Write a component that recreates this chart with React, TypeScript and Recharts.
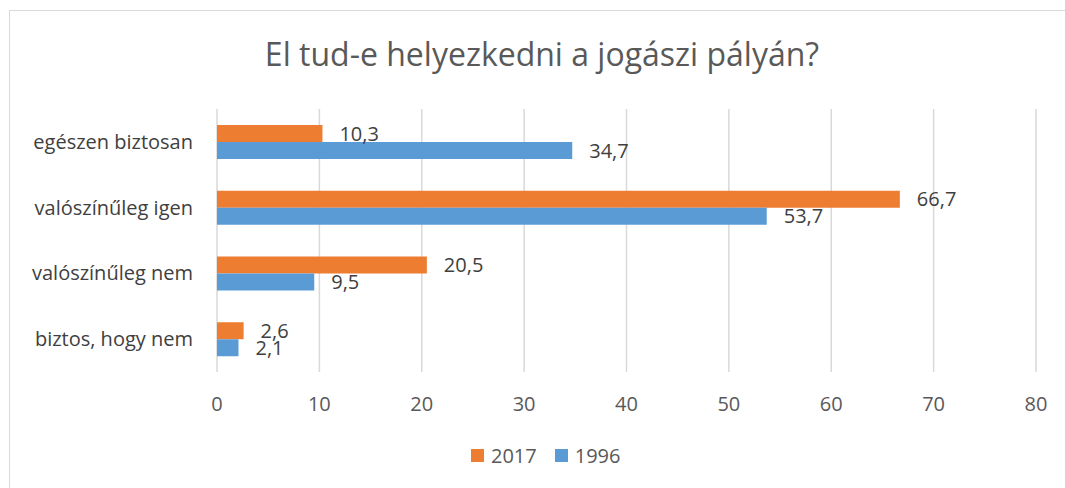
import { BarChart, Bar, XAxis, YAxis, CartesianGrid, LabelList } from 'recharts';

// kategóriák fentről lefelé
const categories = ['egészen biztosan', 'valószínűleg igen', 'valószínűleg nem', 'biztos, hogy nem'];
const values2017 = [10.3, 66.7, 20.5, 2.6];
const values1996 = [34.7, 53.7, 9.5, 2.1];
const xTicks = [0, 10, 20, 30, 40, 50, 60, 70, 80];

const series = [
  { key: 'y2017', name: '2017', color: '#ED7D31' },
  { key: 'y1996', name: '1996', color: '#5B9BD5' },
];

const data = categories.map((c, i) => ({ cat: c, y2017: values2017[i], y1996: values1996[i] }));

const font = '"Open Sans", sans-serif';
const fmt = (v: any) => String(v).replace('.', ',');

export default function App() {
  return (
    <div
      style={{
        position: 'absolute',
        left: 0,
        top: 0,
        width: 1065,
        height: 488,
        overflow: 'hidden',
        background: '#fff',
        fontFamily: font,
      }}
    >
      {/* keret */}
      <div
        style={{
          position: 'absolute',
          left: 9,
          top: 10,
          width: 1200,
          height: 600,
          border: '1px solid #d9d9d9',
        }}
      />
      {/* cím */}
      <div
        style={{
          position: 'absolute',
          left: 0,
          top: 32,
          width: 1084,
          textAlign: 'center',
          fontSize: 32,
          color: '#595959',
          whiteSpace: 'nowrap',
        }}
      >
        El tud-e helyezkedni a jogászi pályán?
      </div>
      <div style={{ position: 'absolute', left: 0, top: 0 }}>
        <BarChart
          width={1065}
          height={488}
          data={data}
          layout="vertical"
          margin={{ top: 109, right: 29, left: 0, bottom: 86 }}
          barSize={17}
          barGap={0}
        >
          <CartesianGrid horizontal={false} stroke="#d9d9d9" strokeWidth={1.5} />
          <XAxis
            type="number"
            domain={[0, 80]}
            ticks={xTicks}
            axisLine={false}
            tickLine={false}
            tickSize={0}
            tickMargin={25}
            height={30}
            tick={{ fill: '#595959', fontSize: 20, fontFamily: font }}
          />
          <YAxis
            type="category"
            dataKey="cat"
            width={217}
            axisLine={false}
            tickLine={false}
            tickSize={0}
            tickMargin={24}
            tick={{ fill: '#404040', fontSize: 20, fontFamily: font }}
          />
          {series.map((s) => (
            <Bar key={s.key} dataKey={s.key} name={s.name} fill={s.color} isAnimationActive={false}>
              <LabelList
                dataKey={s.key}
                position="right"
                offset={17}
                formatter={fmt}
                fill="#404040"
                fontSize={20}
                fontFamily={font}
              />
            </Bar>
          ))}
        </BarChart>
      </div>
      {/* jelmagyarázat */}
      <div
        style={{
          position: 'absolute',
          left: 471,
          top: 442,
          display: 'flex',
          alignItems: 'center',
          fontSize: 20,
          color: '#595959',
          whiteSpace: 'nowrap',
        }}
      >
        {series.map((s, i) => (
          <div key={s.key} style={{ display: 'flex', alignItems: 'center', marginLeft: i === 0 ? 0 : 18 }}>
            <span style={{ display: 'inline-block', width: 13, height: 13, background: s.color, marginRight: 7 }} />
            <span>{s.name}</span>
          </div>
        ))}
      </div>
    </div>
  );
}
